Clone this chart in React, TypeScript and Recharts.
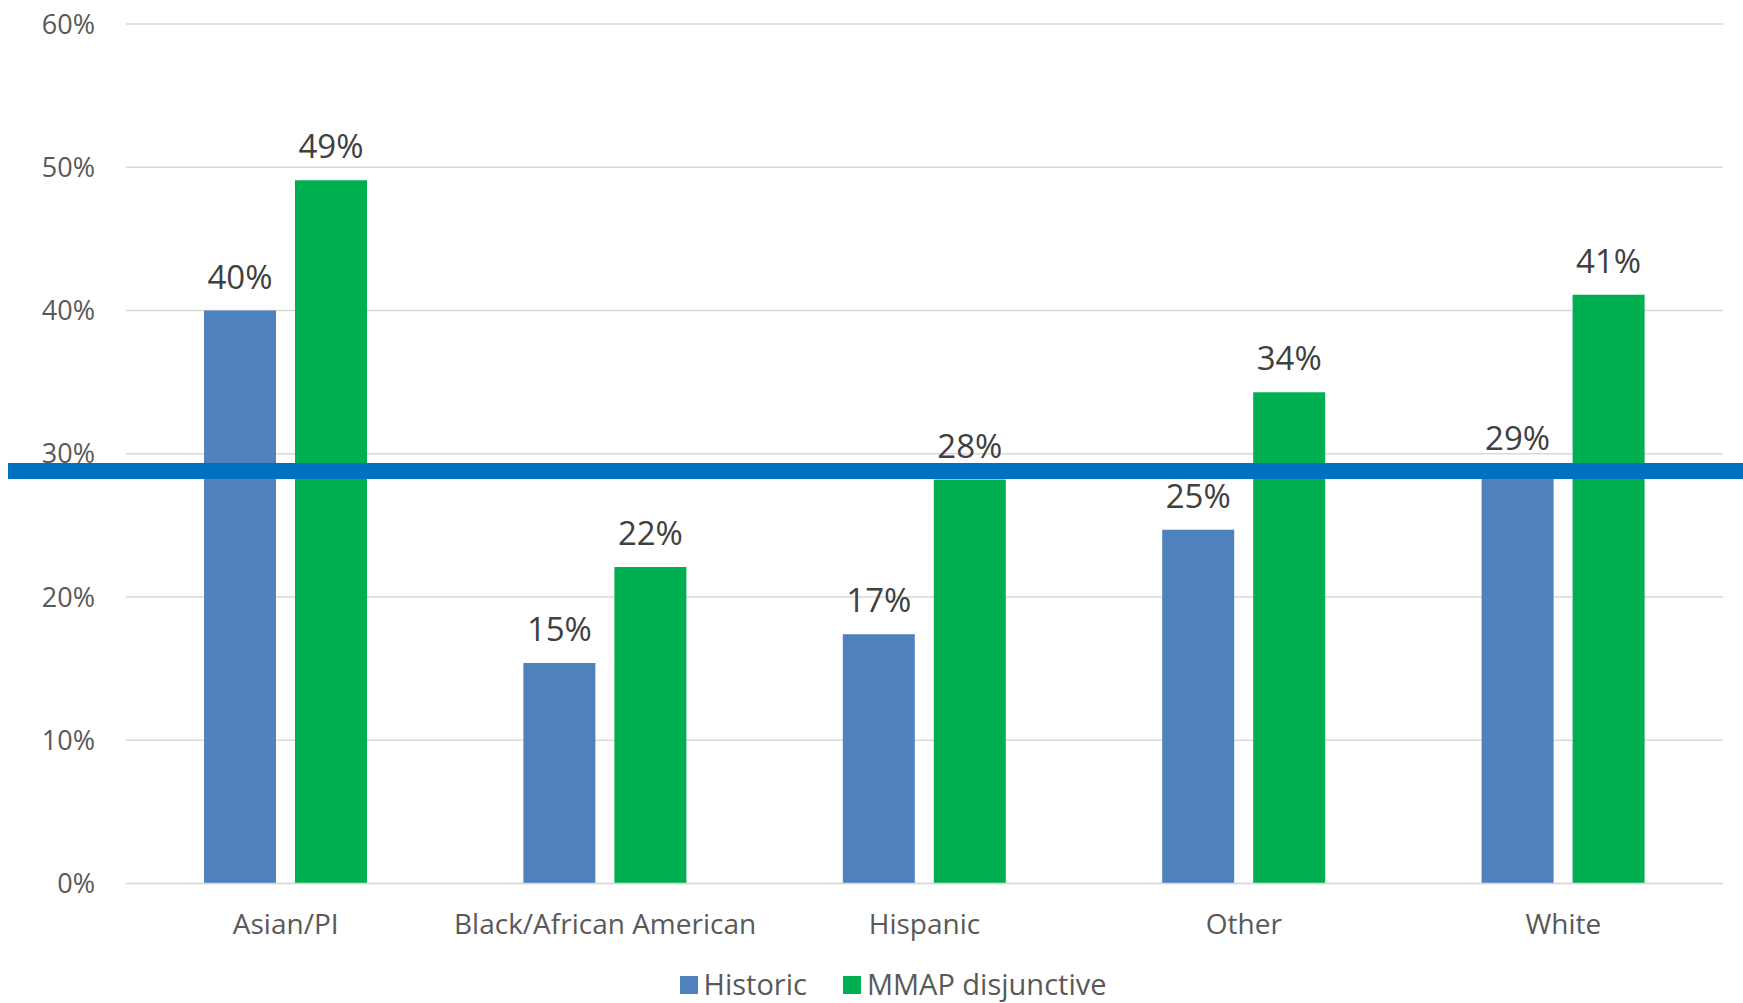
import React from "react";
import { BarChart, Bar, XAxis, YAxis, CartesianGrid, ReferenceLine, LabelList } from "recharts";

const categories = ["Asian/PI", "Black/African American", "Hispanic", "Other", "White"];
const historic = [40.0, 15.4, 17.4, 24.7, 28.7];
const mmap = [49.1, 22.1, 28.2, 34.3, 41.1];
const seriesNames = ["Historic", "MMAP disjunctive"];
const seriesColors = ["#4F81BD", "#00B050"];
const yTicks = [0, 10, 20, 30, 40, 50, 60];
const overallRate = 28.8;

const data = categories.map((c, i) => ({ name: c, historic: historic[i], mmap: mmap[i] }));

const FONT = "'Open Sans', sans-serif";
const W = 1743;
const H = 1003;

const pct = (v: any) => `${Math.round(Number(v))}%`;

const WideLine = (p: any) => (
  <line x1={8} x2={W} y1={p.y1} y2={p.y2} stroke="#0070C0" strokeWidth={16} />
);

export default function App() {
  return (
    <div style={{ position: "absolute", left: 0, top: 0, width: W, height: H, background: "#fff", fontFamily: FONT, overflow: "hidden" }}>
      <BarChart
        width={W}
        height={H}
        data={data}
        margin={{ top: 24, right: 20, bottom: 59.5, left: 0 }}
        barSize={72}
        barGap={19}
      >
        <CartesianGrid vertical={false} stroke="#d9d9d9" strokeWidth={1.5} />
        <XAxis
          dataKey="name"
          height={60}
          axisLine={{ stroke: "#d9d9d9", strokeWidth: 1.5 }}
          tickLine={false}
          tickSize={0}
          tickMargin={31}
          tick={{ fill: "#595959", fontSize: 28, fontFamily: FONT }}
          interval={0}
        />
        <YAxis
          width={126}
          domain={[0, 60]}
          ticks={yTicks}
          axisLine={false}
          tickLine={false}
          tickSize={0}
          tickMargin={31}
          tickFormatter={(v: any) => `${v}%`}
          tick={{ fill: "#595959", fontSize: 27, fontFamily: FONT }}
        />
        <Bar dataKey="historic" name={seriesNames[0]} fill={seriesColors[0]} isAnimationActive={false}>
          <LabelList dataKey="historic" position="top" offset={22} formatter={pct} fill="#404040" fontSize={33} fontFamily={FONT} />
        </Bar>
        <Bar dataKey="mmap" name={seriesNames[1]} fill={seriesColors[1]} isAnimationActive={false}>
          <LabelList dataKey="mmap" position="top" offset={22} formatter={pct} fill="#404040" fontSize={33} fontFamily={FONT} />
        </Bar>
        <ReferenceLine y={overallRate} shape={WideLine} />
      </BarChart>
      <div
        style={{
          position: "absolute",
          left: 0,
          top: 969,
          width: W,
          height: 29,
          display: "flex",
          justifyContent: "center",
          alignItems: "center",
          paddingLeft: 43,
          boxSizing: "border-box",
          fontFamily: FONT,
          fontSize: 29,
          lineHeight: "29px",
          color: "#595959",
        }}
      >
        {seriesNames.map((n, i) => (
          <div key={n} style={{ display: "flex", alignItems: "center", marginRight: i === 0 ? 36 : 0 }}>
            <div style={{ width: 18, height: 18, background: seriesColors[i], marginRight: 6, marginTop: 2 }} />
            <span>{n}</span>
          </div>
        ))}
      </div>
    </div>
  );
}
